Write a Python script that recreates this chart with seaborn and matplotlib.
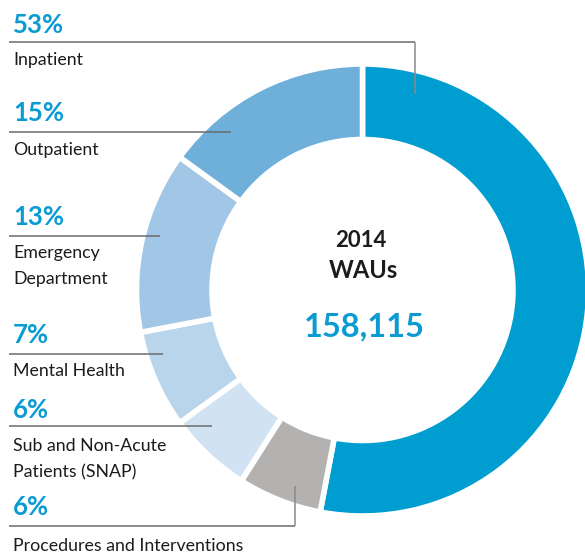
import matplotlib
matplotlib.use("Agg")
import matplotlib.pyplot as plt
import seaborn as sns

# Data
categories = ["Inpatient", "Procedures and Interventions",
              "Sub and Non-Acute\nPatients (SNAP)", "Mental Health",
              "Emergency\nDepartment", "Outpatient"]
shares = [53, 6, 6, 7, 13, 15]
colors = ["#009dd1", "#b3b2b1", "#d1e3f3", "#b9d5ec", "#a2c6e6", "#6eb0da"]
year_label = "2014"
unit_label = "WAUs"
total_label = "158,115"

sns.set_theme(style="white")
plt.rcParams["font.family"] = ["Lato", "DejaVu Sans"]

W, H = 585, 557
BLUE = "#0a9bd2"
GREY = "#6b6b6b"
TXT = "#1c1c1c"

fig = plt.figure(figsize=(W / 100, H / 100), dpi=100)
ax = fig.add_axes([0, 0, 1, 1])

# donut, centre given in picture pixels (y flipped)
cx, cy = 362.5, H - 290
ax.pie(shares, colors=colors, startangle=90, counterclock=False,
       center=(cx, cy), radius=226,
       wedgeprops=dict(width=75.5, edgecolor="white", linewidth=4))
ax.set_xlim(0, W)
ax.set_ylim(0, H)
ax.set_aspect("equal")
ax.axis("off")

# label layout: (pct baseline, line y, line end x, label baseline, elbow y)
layout = {
    "Inpatient": (33, 42, 415, 65, 94),
    "Outpatient": (121, 132, 231, 155, None),
    "Emergency\nDepartment": (225, 236, 160, 258, None),
    "Mental Health": (343, 354, 163, 376, None),
    "Sub and Non-Acute\nPatients (SNAP)": (418, 426, 212, 451, None),
    "Procedures and Interventions": (515, 526, 295, 551, 486),
}

for cat, share in zip(categories, shares):
    pb, ly, lx, tb, elbow = layout[cat]
    ax.text(13, H - pb, f"{share}%", color=BLUE, fontsize=18.5,
            fontweight="bold", va="baseline", ha="left")
    ax.plot([9, lx], [H - ly, H - ly], color=GREY, lw=1.1,
            solid_capstyle="butt")
    if elbow is not None:
        ax.plot([lx, lx], [H - ly, H - elbow], color="#8a8a8a", lw=1.1,
                solid_capstyle="butt")
    lines = cat.split("\n")
    for i, line in enumerate(lines):
        ax.text(13, H - (tb + i * 26), line, color=TXT, fontsize=12.8,
                va="baseline", ha="left")

# centre text
ax.text(361, H - 247, year_label, color=TXT, fontsize=16,
        fontweight="bold", ha="center", va="baseline")
ax.text(363, H - 278, unit_label, color=TXT, fontsize=17,
        fontweight="bold", ha="center", va="baseline")
ax.text(364, H - 336, total_label, color=BLUE, fontsize=23.5,
        fontweight="bold", ha="center", va="baseline")

fig.savefig("out.png", dpi=100)
